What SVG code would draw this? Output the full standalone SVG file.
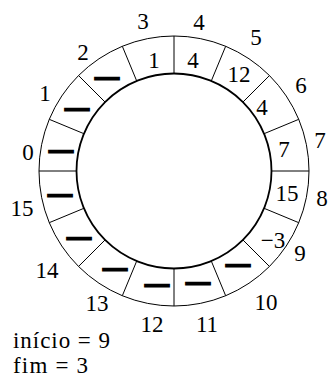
<svg xmlns="http://www.w3.org/2000/svg" width="328" height="378" viewBox="0 0 328 378">
<style>
text{font-family:'Liberation Serif','Times New Roman',serif;font-size:23px;fill:#000}
.idx,.val{text-anchor:middle}
.dash{text-anchor:middle;stroke:#000;stroke-width:2.6}
.ring{fill:none;stroke:#000}
.div{stroke:#000;stroke-width:1}
</style>
<rect width="328" height="378" fill="#fff"/>
<g id="ring">
<circle class="ring" cx="174" cy="171" r="135" stroke-width="1"/>
<circle class="ring" cx="174" cy="171" r="97.5" stroke-width="1.8"/>
</g>
<g id="connectors">
<line class="div" x1="271.5" y1="171" x2="309" y2="171"/>
<line class="div" x1="264.08" y1="133.69" x2="298.72" y2="119.34"/>
<line class="div" x1="242.94" y1="102.06" x2="269.46" y2="75.54"/>
<line class="div" x1="211.31" y1="80.92" x2="225.66" y2="46.28"/>
<line class="div" x1="174" y1="73.5" x2="174" y2="36"/>
<line class="div" x1="136.69" y1="80.92" x2="122.34" y2="46.28"/>
<line class="div" x1="105.06" y1="102.06" x2="78.54" y2="75.54"/>
<line class="div" x1="83.92" y1="133.69" x2="49.28" y2="119.34"/>
<line class="div" x1="76.5" y1="171" x2="39" y2="171"/>
<line class="div" x1="83.92" y1="208.31" x2="49.28" y2="222.66"/>
<line class="div" x1="105.06" y1="239.94" x2="78.54" y2="266.46"/>
<line class="div" x1="136.69" y1="261.08" x2="122.34" y2="295.72"/>
<line class="div" x1="174" y1="268.5" x2="174" y2="306"/>
<line class="div" x1="211.31" y1="261.08" x2="225.66" y2="295.72"/>
<line class="div" x1="242.94" y1="239.94" x2="269.46" y2="266.46"/>
<line class="div" x1="264.08" y1="208.31" x2="298.72" y2="222.66"/>
</g>
<g id="slot0"><text class="idx" x="28" y="160">0</text><text class="dash" x="61" y="157">—</text></g>
<g id="slot1"><text class="idx" x="45" y="101">1</text><text class="dash" x="77" y="115">—</text></g>
<g id="slot2"><text class="idx" x="83" y="60">2</text><text class="dash" x="107" y="84">—</text></g>
<g id="slot3"><text class="idx" x="143" y="29">3</text><text class="val" x="154" y="68">1</text></g>
<g id="slot4"><text class="idx" x="199" y="30">4</text><text class="val" x="193" y="68">4</text></g>
<g id="slot5"><text class="idx" x="256" y="45">5</text><text class="val" x="239" y="82">12</text></g>
<g id="slot6"><text class="idx" x="301" y="93">6</text><text class="val" x="262" y="115">4</text></g>
<g id="slot7"><text class="idx" x="320" y="148">7</text><text class="val" x="284" y="157">7</text></g>
<g id="slot8"><text class="idx" x="322" y="206">8</text><text class="val" x="287" y="201">15</text></g>
<g id="slot9"><text class="idx" x="300" y="261">9</text><text class="val" x="273" y="248">−3</text></g>
<g id="slot10"><text class="idx" x="266" y="310">10</text><text class="dash" x="238" y="271">—</text></g>
<g id="slot11"><text class="idx" x="207" y="332">11</text><text class="dash" x="198" y="289">—</text></g>
<g id="slot12"><text class="idx" x="152" y="332">12</text><text class="dash" x="157" y="291">—</text></g>
<g id="slot13"><text class="idx" x="97" y="311">13</text><text class="dash" x="115" y="275">—</text></g>
<g id="slot14"><text class="idx" x="47" y="278">14</text><text class="dash" x="79" y="244">—</text></g>
<g id="slot15"><text class="idx" x="22" y="216">15</text><text class="dash" x="60" y="201">—</text></g>
<g id="legend">
<text x="13" y="348" textLength="97" lengthAdjust="spacing">início = 9</text>
<text x="13" y="373" textLength="75" lengthAdjust="spacing">fim = 3</text>
</g>
</svg>
